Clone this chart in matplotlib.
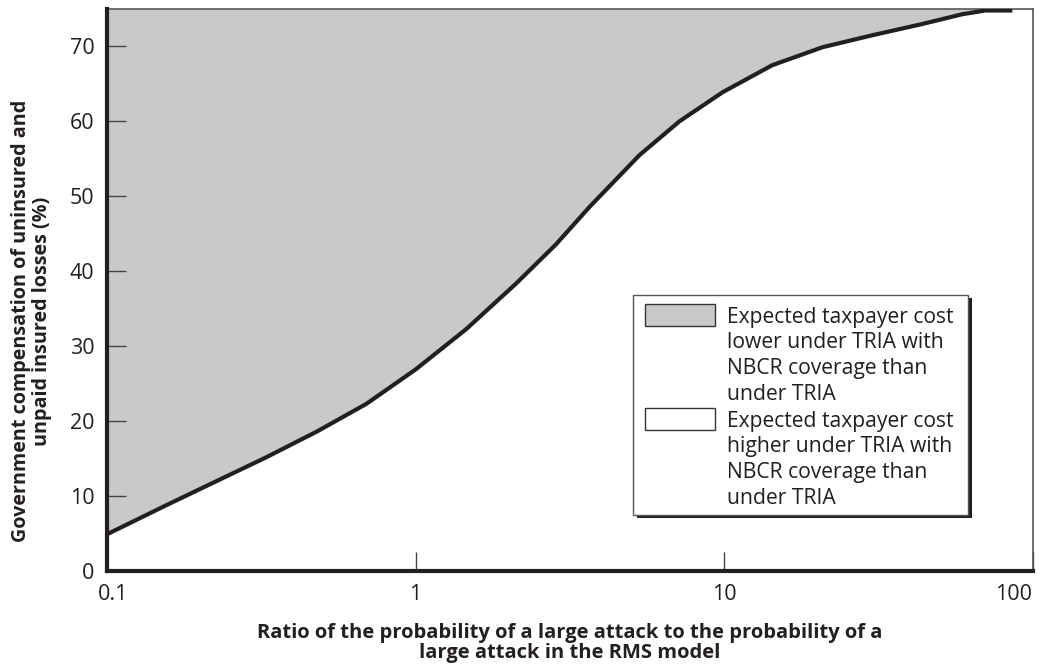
import matplotlib
matplotlib.use("Agg")
import matplotlib.pyplot as plt
from matplotlib.patches import Rectangle
from matplotlib.transforms import ScaledTranslation

plt.rcParams['font.family'] = ['Open Sans', 'DejaVu Sans']

# Data
ratio = [0.1, 0.156, 0.2265, 0.329, 0.478, 0.692, 1.0, 1.46, 2.12, 2.85,
         3.66, 5.31, 7.15, 9.88, 14.3, 20.8, 30.2, 43.8, 59.0, 70.0, 85.7]
compensation = [4.9, 8.8, 12.0, 15.2, 18.6, 22.3, 26.9, 32.3, 38.4, 43.6,
                48.6, 55.5, 60.0, 63.9, 67.5, 69.9, 71.5, 73.0, 74.3, 74.8, 74.8]
x_ticks = [0.1, 1, 10, 100]
x_tick_labels = ["0.1", "1", "10", "100"]
y_ticks = [0, 10, 20, 30, 40, 50, 60, 70]
legend_labels = ["Expected taxpayer cost\nlower under TRIA with\nNBCR coverage than\nunder TRIA",
                 "Expected taxpayer cost\nhigher under TRIA with\nNBCR coverage than\nunder TRIA"]

W, H = 1040, 669
fig = plt.figure(figsize=(W / 100, H / 100), dpi=100)
ax = fig.add_axes([107 / W, 1 - 571 / H, 926 / W, 562 / H])

YMAX = 75.0
fill_color = "#c8c9cb"
line_color = "#231f20"

ax.fill_between(ratio, compensation, YMAX, color=fill_color, lw=0, zorder=1)
ax.plot(ratio, compensation, color=line_color, lw=3.0, solid_capstyle='butt',
        solid_joinstyle='round', zorder=3)

ax.set_xscale('log')
ax.set_xlim(0.1, 100)
ax.set_ylim(0, YMAX)
ax.set_xticks(x_ticks)
ax.set_xticklabels(x_tick_labels)
ax.set_yticks(y_ticks)
ax.minorticks_off()
ax.tick_params(axis='both', direction='in', length=14, width=1.0, color='#444444',
               labelsize=15.5, labelcolor='#231f20')
ax.tick_params(axis='x', pad=9)
ax.tick_params(axis='y', pad=9)

# end labels sit slightly inward, as in the reference
xl = ax.get_xticklabels()
xl[0].set_transform(xl[0].get_transform() + ScaledTranslation(6 / 100, 0, fig.dpi_scale_trans))
xl[-1].set_transform(xl[-1].get_transform() + ScaledTranslation(-19 / 100, 0, fig.dpi_scale_trans))

for s in ['left', 'bottom']:
    ax.spines[s].set_linewidth(3.0)
    ax.spines[s].set_color(line_color)
    ax.spines[s].set_zorder(5)
for s in ['top', 'right']:
    ax.spines[s].set_linewidth(1.2)
    ax.spines[s].set_color('#555555')

ax.set_xlabel("Ratio of the probability of a large attack to the probability of a\nlarge attack in the RMS model",
              fontsize=14.5, fontweight='bold', color='#231f20', labelpad=13, linespacing=1.05)
ax.set_ylabel("Government compensation of uninsured and\nunpaid insured losses (%)",
              fontsize=14.2, fontweight='bold', color='#231f20', linespacing=1.12)
ax.yaxis.set_label_coords(-0.059, (571 - 321) / 562)

# Legend drawn in axes-fraction coordinates
def fx(px):
    return (px - 107) / 926

def fy(py):
    return (571 - py) / 562

tr = ax.transAxes
ax.add_patch(Rectangle((fx(637), fy(518)), fx(968) - fx(633), fy(295) - fy(515),
                       transform=tr, facecolor='#231f20', edgecolor='none', zorder=6))
ax.add_patch(Rectangle((fx(633), fy(515)), fx(968) - fx(633), fy(295) - fy(515),
                       transform=tr, facecolor='white', edgecolor='#555555', lw=1.0, zorder=7))
handle_colors = [fill_color, 'white']
handle_tops = [304, 408]
last_baselines = [400, 504]
for c, ht, tb, lab in zip(handle_colors, handle_tops, last_baselines, legend_labels):
    ax.add_patch(Rectangle((fx(645), fy(ht + 22)), fx(715) - fx(645), fy(ht) - fy(ht + 22),
                           transform=tr, facecolor=c, edgecolor='#333333', lw=1.0, zorder=8))
    ax.text(fx(727), fy(tb), lab, transform=tr, fontsize=15.2, color='#231f20',
            va='baseline', ha='left', linespacing=1.3, zorder=9)

fig.savefig("out.png", dpi=100)
